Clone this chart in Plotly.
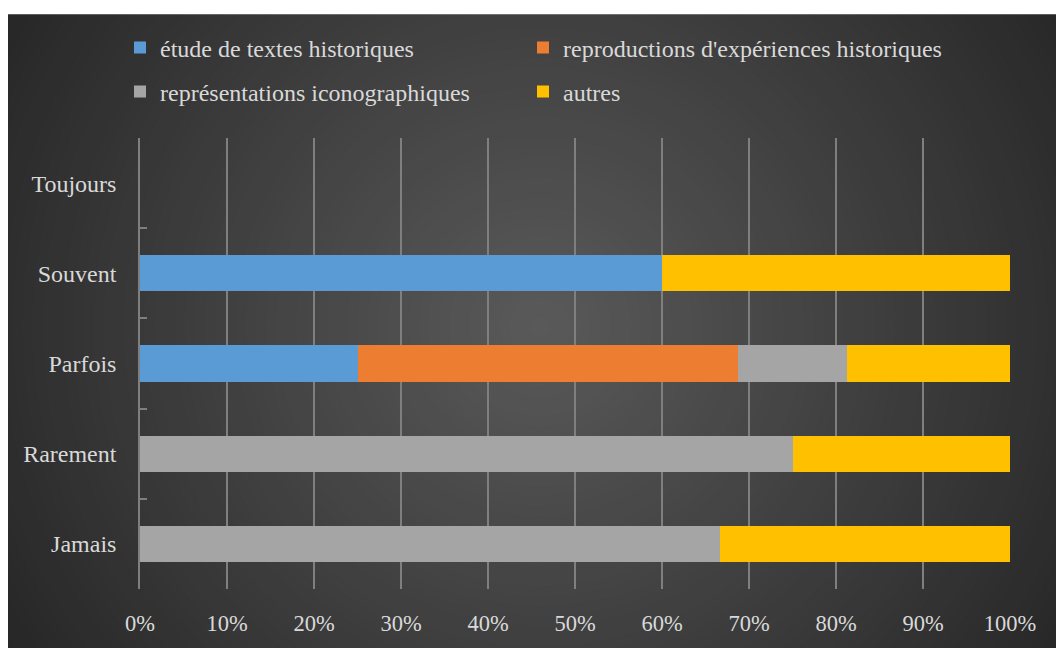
import plotly.graph_objects as go

# ---------------- data ----------------
categories = ["Jamais", "Rarement", "Parfois", "Souvent", "Toujours"]
series_names = [
    "étude de textes historiques",
    "reproductions d'expériences historiques",
    "représentations iconographiques",
    "autres",
]
etude = [0, 0, 25.0, 60.0, 0]
reproductions = [0, 0, 43.75, 0, 0]
representations = [66.67, 75.0, 12.5, 0, 0]
autres = [33.33, 25.0, 18.75, 40.0, 0]
x_ticks = [0, 10, 20, 30, 40, 50, 60, 70, 80, 90, 100]
x_tick_labels = [f"{v}%" for v in x_ticks]

# ---------------- style ----------------
W, H = 1056, 648
L, R, T, B = 140, 46, 138, 51
PW, PH = W - L - R, H - T - B
FONT = "Liberation Serif"
TXT = "#d9d9d9"
GRID = "#7f7f7f"
colors = ["#5B9BD5", "#ED7D31", "#A5A5A5", "#FFC000"]
legend_ids = ["legend", "legend2", "legend3", "legend4"]
# legend item anchor positions (px, from top-left): text starts ~40px right of x
legend_pos = [(120, 48), (523, 48), (120, 92), (523, 92)]


def px2x(px):
    return (px - L) / PW


def py2y(py):
    return (H - B - py) / PH


fig = go.Figure()
for name, vals, col, lg in zip(series_names,
                               [etude, reproductions, representations, autres],
                               colors, legend_ids):
    fig.add_trace(go.Bar(
        y=categories, x=vals, name=name, orientation="h",
        marker=dict(color=col, line=dict(width=0)),
        width=0.4, legend=lg, showlegend=True, hoverinfo="skip",
    ))

# background: white page, dark panel with radial gradient
shapes = [dict(type="rect", xref="paper", yref="paper", layer="below",
               x0=px2x(8), x1=px2x(W + 2), y0=py2y(H + 2), y1=py2y(12),
               fillcolor="#262626", line=dict(width=0))]
cx, cy = 540, 330
rmax = 640
N = 64
c0, c1 = 0x26, 0x5a
for i in range(N):
    f = i / (N - 1)
    r = rmax * (1 - f)
    if r <= 0:
        break
    v = int(round(c0 + (c1 - c0) * f))
    col = f"rgb({v},{v},{v})"
    shapes.append(dict(type="circle", xref="paper", yref="paper", layer="below",
                       x0=px2x(cx - r), x1=px2x(cx + r),
                       y0=py2y(cy + r), y1=py2y(cy - r),
                       fillcolor=col, line=dict(width=0)))
shapes.append(dict(type="rect", xref="paper", yref="paper", layer="below",
                   x0=px2x(-10), x1=px2x(8), y0=py2y(H + 10), y1=py2y(-10),
                   fillcolor="white", line=dict(width=0)))
shapes.append(dict(type="rect", xref="paper", yref="paper", layer="below",
                   x0=px2x(-10), x1=px2x(W + 10), y0=py2y(12), y1=py2y(-10),
                   fillcolor="white", line=dict(width=0)))

legend_common = dict(orientation="h", font=dict(family=FONT, size=24, color=TXT),
                     bgcolor="rgba(0,0,0,0)", xref="container", yref="container",
                     xanchor="left", yanchor="middle", visible=True,
                     itemclick=False, itemdoubleclick=False)
legends = {lid: dict(x=px / W, y=1 - py / H, **legend_common)
           for lid, (px, py) in zip(legend_ids, legend_pos)}

fig.update_layout(
    width=W, height=H,
    margin=dict(l=L, r=R, t=T, b=B, pad=0),
    paper_bgcolor="white", plot_bgcolor="rgba(0,0,0,0)",
    barmode="stack", bargap=0.6, showlegend=True,
    font=dict(family=FONT, size=22, color=TXT),
    shapes=shapes,
    **legends,
    xaxis=dict(range=[0, 100], tickvals=x_ticks, ticktext=x_tick_labels,
               showgrid=True, gridcolor=GRID, gridwidth=1.5, zeroline=False,
               showline=False, ticks="", ticklabelstandoff=18,
               tickfont=dict(family=FONT, size=22.5, color=TXT), fixedrange=True),
    yaxis=dict(categoryorder="array", categoryarray=categories, type="category",
               range=[-0.502, 4.502], showgrid=False, zeroline=False,
               showline=True, linecolor=GRID, linewidth=1.5,
               ticks="inside", tickson="boundaries", ticklen=7, tickcolor=GRID,
               tickwidth=1.5, ticklabelstandoff=17,
               tickfont=dict(family=FONT, size=24, color=TXT), fixedrange=True),
)

fig.write_html("out.html", config=dict(displayModeBar=False),
               post_script="document.body.style.margin='0';document.body.style.overflow='hidden';")
